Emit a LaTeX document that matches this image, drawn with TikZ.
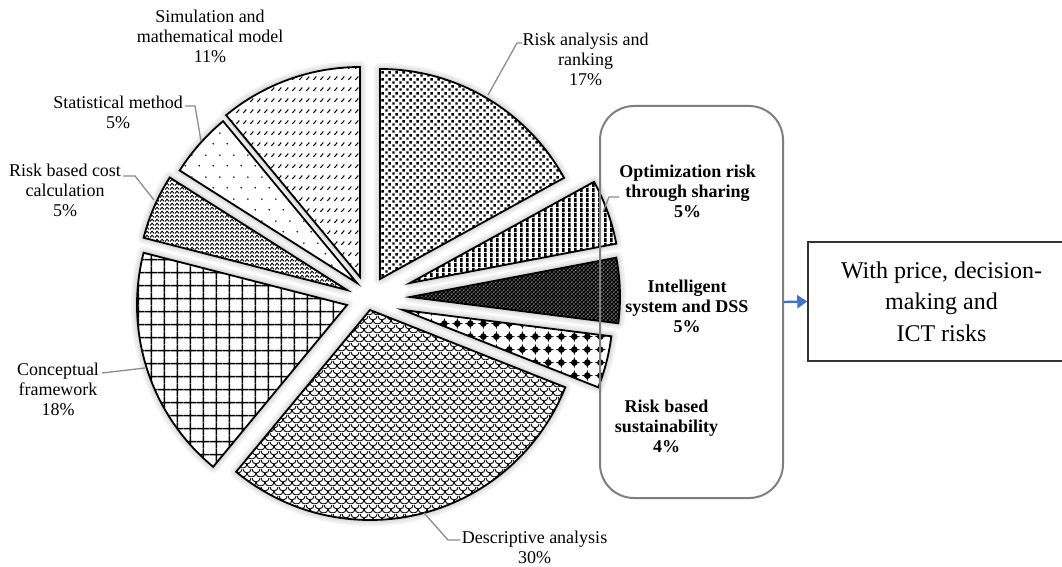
\documentclass[tikz,border=0pt]{standalone}
\usepackage{fontspec}
\setmainfont{Liberation Serif}
\usetikzlibrary{patterns,arrows.meta}

% ---- fill patterns for the pie wedges (1pt = 1 drawing unit) ----
\pgfdeclarepatternformonly{checkdots}{\pgfqpoint{0pt}{0pt}}{\pgfqpoint{7pt}{7pt}}{\pgfqpoint{7pt}{7pt}}{%
  \pgfpathrectangle{\pgfqpoint{0.3pt}{0.3pt}}{\pgfqpoint{2.8pt}{2.8pt}}%
  \pgfpathrectangle{\pgfqpoint{3.8pt}{3.8pt}}{\pgfqpoint{2.8pt}{2.8pt}}%
  \pgfusepath{fill}}
\pgfdeclarepatternformonly{vstripes}{\pgfqpoint{0pt}{0pt}}{\pgfqpoint{5.8pt}{5pt}}{\pgfqpoint{5.8pt}{5pt}}{%
  \pgfpathrectangle{\pgfqpoint{0pt}{0pt}}{\pgfqpoint{2.6pt}{5pt}}%
  \pgfusepath{fill}}
\pgfdeclarepatternformonly{finedots}{\pgfqpoint{0pt}{0pt}}{\pgfqpoint{4.4pt}{4.4pt}}{\pgfqpoint{4.4pt}{4.4pt}}{%
  \pgfpathcircle{\pgfqpoint{1.1pt}{1.1pt}}{0.8pt}%
  \pgfpathcircle{\pgfqpoint{3.3pt}{3.3pt}}{0.8pt}%
  \pgfusepath{fill}}
\pgfdeclarepatternformonly{stars}{\pgfqpoint{0pt}{0pt}}{\pgfqpoint{13.3pt}{13.3pt}}{\pgfqpoint{13.3pt}{13.3pt}}{%
  \pgfpathcircle{\pgfqpoint{6.65pt}{6.65pt}}{3.4pt}\pgfusepath{fill}%
  \pgfpathmoveto{\pgfqpoint{6.65pt}{0.6pt}}\pgfpathlineto{\pgfqpoint{8.2pt}{6.65pt}}%
  \pgfpathlineto{\pgfqpoint{6.65pt}{12.7pt}}\pgfpathlineto{\pgfqpoint{5.1pt}{6.65pt}}\pgfpathclose\pgfusepath{fill}%
  \pgfpathmoveto{\pgfqpoint{0.6pt}{6.65pt}}\pgfpathlineto{\pgfqpoint{6.65pt}{8.2pt}}%
  \pgfpathlineto{\pgfqpoint{12.7pt}{6.65pt}}\pgfpathlineto{\pgfqpoint{6.65pt}{5.1pt}}\pgfpathclose\pgfusepath{fill}}
\pgfdeclarepatternformonly{scales}{\pgfqpoint{0pt}{0pt}}{\pgfqpoint{9pt}{9pt}}{\pgfqpoint{9pt}{9pt}}{%
  \pgfsetlinewidth{1pt}%
  \pgfpathmoveto{\pgfqpoint{0pt}{9pt}}\pgfpatharc{180}{360}{4.5pt}%
  \pgfpathmoveto{\pgfqpoint{-4.5pt}{4.5pt}}\pgfpatharc{180}{360}{4.5pt}%
  \pgfpathmoveto{\pgfqpoint{4.5pt}{4.5pt}}\pgfpatharc{180}{360}{4.5pt}%
  \pgfusepath{stroke}}
\pgfdeclarepatternformonly{biggrid}{\pgfqpoint{0pt}{0pt}}{\pgfqpoint{13.3pt}{13.3pt}}{\pgfqpoint{13.3pt}{13.3pt}}{%
  \pgfsetlinewidth{1.6pt}%
  \pgfpathmoveto{\pgfqpoint{6.65pt}{0pt}}\pgfpathlineto{\pgfqpoint{6.65pt}{13.3pt}}%
  \pgfpathmoveto{\pgfqpoint{0pt}{6.65pt}}\pgfpathlineto{\pgfqpoint{13.3pt}{6.65pt}}%
  \pgfusepath{stroke}}
\pgfdeclarepatternformonly{zigzag}{\pgfqpoint{0pt}{0pt}}{\pgfqpoint{5pt}{3.6pt}}{\pgfqpoint{5pt}{3.6pt}}{%
  \pgfsetlinewidth{1pt}%
  \pgfpathmoveto{\pgfqpoint{0pt}{0.5pt}}\pgfpathlineto{\pgfqpoint{2.5pt}{3.1pt}}%
  \pgfpathlineto{\pgfqpoint{5pt}{0.5pt}}%
  \pgfusepath{stroke}}
\pgfdeclarepatternformonly{sparsedots}{\pgfqpoint{0pt}{0pt}}{\pgfqpoint{14pt}{22pt}}{\pgfqpoint{14pt}{22pt}}{%
  \pgfpathcircle{\pgfqpoint{3.5pt}{5.5pt}}{0.9pt}%
  \pgfpathcircle{\pgfqpoint{10.5pt}{16.5pt}}{0.9pt}%
  \pgfusepath{fill}}
\pgfdeclarepatternformonly{diagdash}{\pgfqpoint{0pt}{0pt}}{\pgfqpoint{6.7pt}{11pt}}{\pgfqpoint{6.7pt}{11pt}}{%
  \pgfsetlinewidth{1.1pt}%
  \pgfpathmoveto{\pgfqpoint{1.5pt}{3.5pt}}\pgfpathlineto{\pgfqpoint{4.5pt}{7pt}}%
  \pgfusepath{stroke}}

\definecolor{leadgray}{HTML}{8C8C8C}
\definecolor{framegray}{HTML}{7F7F7F}
\definecolor{arrowblue}{HTML}{4472C4}

\begin{document}
\begin{tikzpicture}[x=1pt,y=1pt,
  wedgeline/.style={draw=black, line width=1.8pt, line join=miter},
  leader/.style={draw=leadgray, line width=1.3pt},
  lbl/.style={font=\fontsize{18}{20}\selectfont, align=center, inner sep=0pt},
  blbl/.style={font=\fontsize{18}{20}\selectfont\bfseries, align=center, inner sep=0pt},
  frame/.style={draw=framegray, line width=2pt, rounded corners=34pt,
    minimum width=183pt, minimum height=392pt, inner sep=0pt},
  notebox/.style={draw=black!80, line width=1.5pt, minimum width=267pt,
    minimum height=119pt, inner sep=0pt, align=center,
    font=\fontsize{24}{31.5}\selectfont},
  linkarrow/.style={draw=arrowblue, line width=2.4pt,
    -{Triangle[length=10pt,width=13pt]}}]
\useasboundingbox (0,0) rectangle (1062,-567);
\clip (0,0) rectangle (1062,-567);

% apex x / apex y / start angle / end angle / background / pattern / pattern colour
\def\wedges{
  380/-279/28.8/90/white/checkdots/black,
  410/-283/10.8/28.8/white/vstripes/black,
  410/-297/-7.2/10.8/black/finedots/white,
  403/-310/-21.6/-7.2/white/stars/black,
  370/-310/-129.6/-21.6/white/scales/black,
  347/-305/165.6/230.4/white/biggrid/black,
  347/-290/147.6/165.6/white/zigzag/black,
  357/-283/129.6/147.6/white/sparsedots/black,
  360/-277/90/129.6/white/diagdash/black}

% soft glow around the wedges
\foreach \ax/\ay/\sa/\ea/\bg/\pat/\pc in \wedges {
  \draw[black!5, line width=12pt, line join=round]
    (\ax,\ay) -- ++(\sa:210) arc[start angle=\sa, end angle=\ea, radius=210] -- cycle;
  \draw[black!9, line width=8pt, line join=round]
    (\ax,\ay) -- ++(\sa:210) arc[start angle=\sa, end angle=\ea, radius=210] -- cycle;
  \draw[black!14, line width=4.5pt, line join=round]
    (\ax,\ay) -- ++(\sa:210) arc[start angle=\sa, end angle=\ea, radius=210] -- cycle;
}
% the wedges themselves
\foreach \ax/\ay/\sa/\ea/\bg/\pat/\pc in \wedges {
  \fill[\bg]
    (\ax,\ay) -- ++(\sa:210) arc[start angle=\sa, end angle=\ea, radius=210] -- cycle;
  \fill[pattern=\pat, pattern color=\pc]
    (\ax,\ay) -- ++(\sa:210) arc[start angle=\sa, end angle=\ea, radius=210] -- cycle;
  \draw[wedgeline]
    (\ax,\ay) -- ++(\sa:210) arc[start angle=\sa, end angle=\ea, radius=210] -- cycle;
}

% data labels
\node[lbl]  (lab-risk)  at (585.5,-59)  {Risk analysis and\\ranking\\17\%};
\node[lbl]  (lab-sim)   at (210,-36)    {Simulation and\\mathematical model\\11\%};
\node[lbl]  (lab-stat)  at (118,-112.3) {Statistical method\\5\%};
\node[lbl]  (lab-cost)  at (65,-190.7)  {Risk based cost\\calculation\\5\%};
\node[lbl]  (lab-conc)  at (58,-389)    {Conceptual\\framework\\18\%};
\node[lbl]  (lab-desc)  at (534.5,-547.3) {Descriptive analysis\\30\%};
\node[blbl] (lab-opt)   at (687.5,-191) {Optimization risk\\through sharing\\5\%};
\node[blbl] (lab-int)   at (687,-306.7) {Intelligent\\system and DSS\\5\%};
\node[blbl] (lab-sus)   at (666.5,-426.7) {Risk based\\sustainability\\4\%};

% leader lines from wedges to labels
\coordinate (risk-a) at (488,-95);   \coordinate (risk-b) at (517,-43);  \coordinate (risk-c) at (522,-43);
\coordinate (opt-a)  at (603,-212);  \coordinate (opt-b)  at (609,-197); \coordinate (opt-c)  at (619,-197);
\coordinate (stat-a) at (201,-141);  \coordinate (stat-b) at (195,-106); \coordinate (stat-c) at (185,-106);
\coordinate (cost-a) at (154,-200);  \coordinate (cost-b) at (135,-176); \coordinate (cost-c) at (123,-176);
\coordinate (conc-a) at (145,-368);  \coordinate (conc-c) at (102,-373);
\coordinate (desc-a) at (424,-513);  \coordinate (desc-b) at (448,-540); \coordinate (desc-c) at (460,-540);
\draw[leader] (risk-a) -- (risk-b) -- (risk-c);
\draw[leader] (opt-a) -- (opt-b) -- (opt-c);
\draw[leader] (stat-a) -- (stat-b) -- (stat-c);
\draw[leader] (cost-a) -- (cost-b) -- (cost-c);
\draw[leader] (conc-a) -- (conc-c);
\draw[leader] (desc-a) -- (desc-b) -- (desc-c);

% grouping frame and the note it points to
\node[frame]   (group) at (691.5,-302) {};
\node[notebox] (note)  at (941.5,-301.5) {With price, decision-\\making and\\ICT risks};
\draw[linkarrow] (group.east) -- (note.west);
\end{tikzpicture}
\end{document}
